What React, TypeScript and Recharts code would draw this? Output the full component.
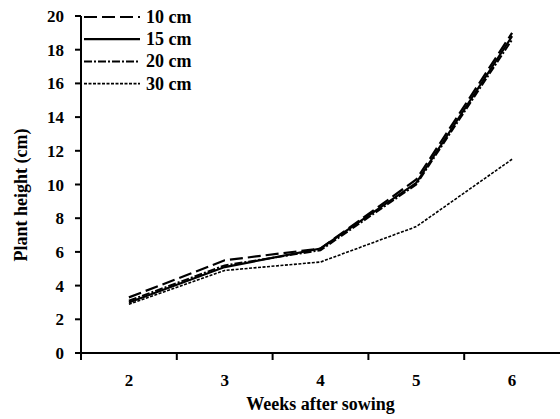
import { LineChart, Line, XAxis, YAxis } from "recharts";

const weeks = [2, 3, 4, 5, 6];
const cm10 = [3.3, 5.5, 6.2, 10.3, 19.0];
const cm15 = [3.0, 5.1, 6.2, 10.1, 18.8];
const cm20 = [3.1, 5.2, 6.1, 10.0, 18.6];
const cm30 = [2.9, 4.9, 5.4, 7.5, 11.5];
const yTicks = [0, 2, 4, 6, 8, 10, 12, 14, 16, 18, 20];
// labels at whole weeks, tick marks between them
const xTicks = [1.5, 2, 2.5, 3, 3.5, 4, 4.5, 5, 5.5, 6];

const data = weeks.map((w, i) => ({
  week: w,
  c10: cm10[i],
  c15: cm15[i],
  c20: cm20[i],
  c30: cm30[i],
}));

const series = [
  { key: "c10", name: "10 cm", dash: "13 5", width: 2.2 },
  { key: "c15", name: "15 cm", dash: undefined, width: 2.2 },
  { key: "c20", name: "20 cm", dash: "8 2 2 2", width: 2 },
  { key: "c30", name: "30 cm", dash: "3 1.5", width: 1.6 },
];

const font = "'Liberation Serif', 'Times New Roman', serif";

function XTick(props: any) {
  const { x, y, payload } = props;
  if (Number.isInteger(payload.value)) {
    return (
      <text x={x} y={y + 33} textAnchor="middle" fontFamily={font} fontSize={17} fontWeight="bold" fill="#000">
        {payload.value}
      </text>
    );
  }
  return <line x1={x} x2={x} y1={y} y2={y + 7} stroke="#000" strokeWidth={2} />;
}

function YTitle() {
  return (
    <text x={21} y={195} transform="rotate(-90 21 195)" textAnchor="middle" dominantBaseline="central" fontFamily={font} fontSize={18} fontWeight="bold" fill="#000">
      Plant height (cm)
    </text>
  );
}

function LegendBox() {
  return (
    <svg width={160} height={100} style={{ position: "absolute", left: 84, top: 6, overflow: "visible" }}>
      {series.map((s, i) => (
        <g key={s.key}>
          <line x1={0} x2={56} y1={11 + i * 22.2} y2={11 + i * 22.2} stroke="#000" strokeWidth={s.width} strokeDasharray={s.dash} />
          <text x={62} y={17 + i * 22.2} fontFamily={font} fontSize={18} fontWeight="bold" fill="#000">
            {s.name}
          </text>
        </g>
      ))}
    </svg>
  );
}

export default function App() {
  return (
    <div style={{ position: "absolute", left: 0, top: 0, width: 560, height: 419, background: "#fff" }}>
      <LineChart width={560} height={419} data={data} margin={{ top: 16, right: 0, bottom: 6, left: 0 }}>
        <XAxis
          dataKey="week"
          type="number"
          domain={[1.5, 6.5]}
          ticks={xTicks}
          interval={0}
          tickLine={false}
          tickSize={0}
          tickMargin={0}
          tick={<XTick />}
          height={60}
          axisLine={{ stroke: "#000", strokeWidth: 2 }}
          label={{ value: "Weeks after sowing", position: "insideBottom", offset: 3, fill: "#000", fontFamily: font, fontSize: 18, fontWeight: "bold" }}
        />
        <YAxis
          domain={[0, 20]}
          ticks={yTicks}
          interval={0}
          width={81}
          tickSize={6}
          tickMargin={11}
          axisLine={{ stroke: "#000", strokeWidth: 2 }}
          tickLine={{ stroke: "#000", strokeWidth: 2 }}
          tick={{ fill: "#000", fontFamily: font, fontSize: 17, fontWeight: "bold" }}
          label={<YTitle />}
        />
        {series.map((s) => (
          <Line
            key={s.key}
            dataKey={s.key}
            name={s.name}
            stroke="#000"
            strokeWidth={s.width}
            strokeDasharray={s.dash}
            dot={false}
            type="linear"
            isAnimationActive={false}
          />
        ))}
      </LineChart>
      <LegendBox />
    </div>
  );
}
